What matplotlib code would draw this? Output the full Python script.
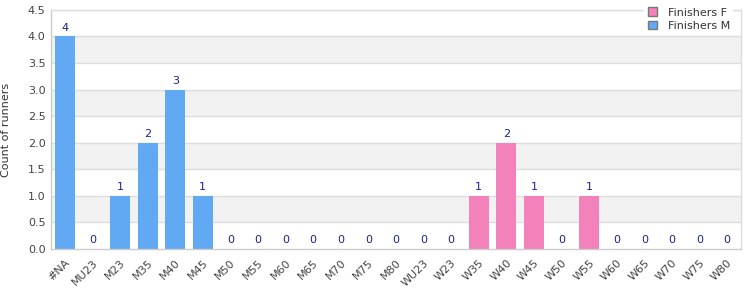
import matplotlib
matplotlib.use("Agg")
import matplotlib.pyplot as plt
from matplotlib.patches import Patch
import numpy as np

categories = ["#NA", "MU23", "M23", "M35", "M40", "M45", "M50", "M55", "M60", "M65",
              "M70", "M75", "M80", "WU23", "W23", "W35", "W40", "W45", "W50", "W55",
              "W60", "W65", "W70", "W75", "W80"]
finishers_m = [4, 0, 1, 2, 3, 1, 0, 0, 0, 0, 0, 0, 0, 0, 0, 0, 0, 0, 0, 0, 0, 0, 0, 0, 0]
finishers_f = [0, 0, 0, 0, 0, 0, 0, 0, 0, 0, 0, 0, 0, 0, 0, 1, 2, 1, 0, 1, 0, 0, 0, 0, 0]
yticks = [0.0, 0.5, 1.0, 1.5, 2.0, 2.5, 3.0, 3.5, 4.0, 4.5]

col_m = "#62a9f4"
col_f = "#f282b9"
lab_col = "#1f1f8f"
txt_col = "#444444"

fig = plt.figure(figsize=(7.5, 3.0), dpi=100)
ax = fig.add_axes([0.068, 0.17, 0.92, 0.797])

x = np.arange(len(categories))
ax.set_xlim(-0.5, len(categories) - 0.5)
ax.set_ylim(0, 4.5)

# alternating bands
for i in range(len(yticks) - 1):
    if i % 2 == 1:
        ax.axhspan(yticks[i], yticks[i + 1], color="#f2f2f2", zorder=0, lw=0)
for t in yticks[1:]:
    ax.axhline(t, color="#dddddd", lw=1, zorder=1)

ax.bar(x, finishers_m, width=0.72, color=col_m, zorder=2)
ax.bar(x, finishers_f, width=0.72, color=col_f, zorder=2)

for xi, m, f in zip(x, finishers_m, finishers_f):
    v = max(m, f)
    ax.text(xi, v + 0.07, str(v), ha="center", va="bottom", color=lab_col, fontsize=8, zorder=3)

ax.set_xticks(x)
ax.set_xticklabels(categories, rotation=45, ha="right", rotation_mode="anchor",
                   fontsize=8, color=txt_col)
ax.set_yticks(yticks)
ax.set_yticklabels([f"{t:.1f}" for t in yticks], fontsize=8, color=txt_col)
ax.tick_params(axis="both", length=0, pad=4)
ax.tick_params(axis="x", pad=6)
ax.set_ylabel("Count of runners", fontsize=8, color="#333333", labelpad=12)

for s in ax.spines.values():
    s.set_color("#dddddd")
    s.set_linewidth(1)
ax.spines["bottom"].set_color("#cccccc")
ax.spines["left"].set_color("#cccccc")

handles = [Patch(facecolor=col_f, edgecolor="#777777", label="Finishers F"),
           Patch(facecolor=col_m, edgecolor="#777777", label="Finishers M")]
leg = fig.legend(handles=handles, loc="upper right", bbox_to_anchor=(0.985, 1.005),
                 fontsize=8, frameon=True, handlelength=0.8, handleheight=0.8,
                 handletextpad=1.0, labelspacing=0.3, borderpad=0.3)
leg.get_frame().set_edgecolor("none")
leg.get_frame().set_facecolor("white")
leg.get_frame().set_alpha(1)
for t in leg.get_texts():
    t.set_color("#333333")

fig.savefig("out.png", dpi=100)
